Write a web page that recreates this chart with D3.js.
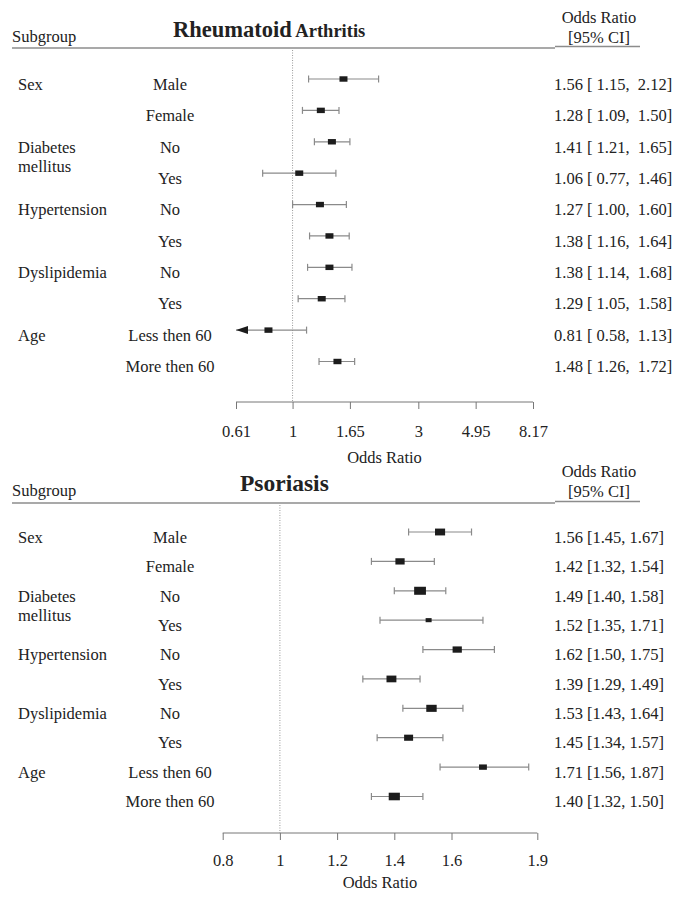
<!DOCTYPE html>
<html>
<head>
<meta charset="utf-8">
<script src="https://cdn.jsdelivr.net/npm/d3@7"></script>
<style>
  body { margin: 0; background: #fff; }
  svg { display: block; }
  text { font-family: "Liberation Serif", "Times New Roman", serif; fill: #222; white-space: pre; }
</style>
</head>
<body>
<svg id="chart" width="684" height="897"></svg>
<script>
// ---------------- data ----------------
const groupLabels = [["Sex"], ["Diabetes", "mellitus"], ["Hypertension"], ["Dyslipidemia"], ["Age"]];
const groupRows = [0, 2, 4, 6, 8];
const subgroups = ["Male", "Female", "No", "Yes", "No", "Yes", "No", "Yes", "Less then 60", "More then 60"];

const raOR    = [1.56, 1.28, 1.41, 1.06, 1.27, 1.38, 1.38, 1.29, 0.81, 1.48];
const raLower = [1.15, 1.09, 1.21, 0.77, 1.00, 1.16, 1.14, 1.05, 0.58, 1.26];
const raUpper = [2.12, 1.50, 1.65, 1.46, 1.60, 1.64, 1.68, 1.58, 1.13, 1.72];
const raTicks = [0.61, 1, 1.65, 3, 4.95, 8.17];

const psOR    = [1.56, 1.42, 1.49, 1.52, 1.62, 1.39, 1.53, 1.45, 1.71, 1.40];
const psLower = [1.45, 1.32, 1.40, 1.35, 1.50, 1.29, 1.43, 1.34, 1.56, 1.32];
const psUpper = [1.67, 1.54, 1.58, 1.71, 1.75, 1.49, 1.64, 1.57, 1.87, 1.50];
const psTicks = [0.8, 1, 1.2, 1.4, 1.6, 1.9];

// ---------------- drawing ----------------
const svg = d3.select("#chart");
const FS = 16.5;
const f2 = d3.format(".2f");

function panel(cfg) {
  const g = svg.append("g");
  const n = cfg.or.length;
  const y = d3.scaleLinear().domain([0, n - 1]).range([cfg.rowTop, cfg.rowBottom]);
  const x = cfg.xScale;
  const [xmin, xmax] = x.domain();

  // header
  g.append("text").attr("x", 12).attr("y", cfg.headY).attr("dy", "0.35em")
    .style("font-size", FS + "px").text("Subgroup");
  const t = g.append("text").attr("x", cfg.titleX).attr("y", cfg.titleY).attr("dy", "0.35em")
    .style("font-weight", "bold");
  cfg.title.forEach(p => t.append("tspan").style("font-size", p.size + "px").text(p.text));
  g.append("text").attr("x", 599).attr("y", cfg.headY - 19).attr("dy", "0.35em")
    .attr("text-anchor", "middle").style("font-size", FS + "px").text("Odds Ratio");
  g.append("text").attr("x", 599).attr("y", cfg.headY + 1).attr("dy", "0.35em")
    .attr("text-anchor", "middle").style("font-size", FS + "px").text("[95% CI]");
  g.append("line").attr("x1", 12).attr("x2", 555).attr("y1", cfg.lineY).attr("y2", cfg.lineY)
    .attr("stroke", "#8c8c8c").attr("stroke-width", 1.4);
  g.append("line").attr("x1", 555).attr("x2", 640).attr("y1", cfg.lineY - 1.5).attr("y2", cfg.lineY - 1.5)
    .attr("stroke", "#8c8c8c").attr("stroke-width", 1.4);

  // reference line
  g.append("line").attr("x1", x(1)).attr("x2", x(1)).attr("y1", cfg.lineY + 2).attr("y2", cfg.axisY)
    .attr("stroke", "#9a9a9a").attr("stroke-width", 1).attr("stroke-dasharray", "1,1.5");

  // group labels
  groupLabels.forEach((lines, i) => {
    lines.forEach((s, k) => {
      g.append("text").attr("x", 18).attr("y", y(groupRows[i]) + 5 + k * 19).attr("dy", "0.35em")
        .style("font-size", FS + "px").text(s);
    });
  });
  // subgroup labels
  g.selectAll(".sub").data(subgroups).join("text")
    .attr("x", 170).attr("y", (d, i) => y(i) + 5).attr("dy", "0.35em")
    .attr("text-anchor", "middle").style("font-size", FS + "px").text(d => d);

  // values
  g.selectAll(".val").data(cfg.or).join("text")
    .attr("x", 554).attr("y", (d, i) => y(i) + 5).attr("dy", "0.35em")
    .style("font-size", FS + "px")
    .text((d, i) => cfg.fmt(d, cfg.lo[i], cfg.hi[i]));

  // CIs
  cfg.or.forEach((d, i) => {
    const lo = cfg.lo[i], hi = cfg.hi[i];
    const yy = y(i);
    const loC = Math.max(lo, xmin), hiC = Math.min(hi, xmax);
    g.append("line").attr("x1", x(loC)).attr("x2", x(hiC)).attr("y1", yy).attr("y2", yy)
      .attr("stroke", "#8a8a8a").attr("stroke-width", 1.2);
    if (lo >= xmin) {
      g.append("line").attr("x1", x(lo)).attr("x2", x(lo)).attr("y1", yy - 3.5).attr("y2", yy + 3.5)
        .attr("stroke", "#8a8a8a").attr("stroke-width", 1.2);
    } else {
      const ax = x(xmin);
      g.append("path").attr("d", `M${ax},${yy} L${ax + 12},${yy - 4} L${ax + 12},${yy + 4} Z`)
        .attr("fill", "#1c1c1c");
    }
    if (hi <= xmax) {
      g.append("line").attr("x1", x(hi)).attr("x2", x(hi)).attr("y1", yy - 3.5).attr("y2", yy + 3.5)
        .attr("stroke", "#8a8a8a").attr("stroke-width", 1.2);
    }
    const w = cfg.boxW(i), h = w * 0.68;
    g.append("rect").attr("x", x(d) - w / 2).attr("y", yy - h / 2).attr("width", w).attr("height", h)
      .attr("fill", "#1c1c1c");
  });

  // axis
  const axis = d3.axisBottom(x).tickValues(cfg.ticks).tickSize(7).tickSizeOuter(0)
    .tickFormat(d => String(d));
  const ag = g.append("g").attr("transform", `translate(0,${cfg.axisY})`).call(axis);
  ag.attr("font-family", null).attr("font-size", null);
  ag.select(".domain").attr("stroke", "#777").attr("d", `M${x(xmin)},0H${x(xmax)}`);
  ag.selectAll(".tick line").attr("stroke", "#777");
  ag.selectAll(".tick text").style("font-size", FS + "px")
    .style("font-family", '"Liberation Serif", serif').attr("fill", "#222")
    .attr("y", cfg.tickLabelOff).attr("dy", "0.35em");
  g.append("text").attr("x", (x(xmin) + x(xmax)) / 2).attr("y", cfg.axisY + cfg.axisTitleOff).attr("dy", "0.35em")
    .attr("text-anchor", "middle").style("font-size", FS + "px").text("Odds Ratio");
}

// Rheumatoid Arthritis (log scale)
const xRA = d3.scaleLog().domain([raTicks[0], raTicks[raTicks.length - 1]]).range([236, 533]);
panel({
  or: raOR, lo: raLower, hi: raUpper, ticks: raTicks, xScale: xRA,
  rowTop: 79, rowBottom: 361.5, axisY: 402, tickLabelOff: 29, axisTitleOff: 55,
  headY: 36, lineY: 48, titleX: 173, titleY: 31,
  title: [{ text: "Rheumatoid", size: 22.5 }, { text: " Arthritis", size: 18.5 }],
  fmt: (d, l, h) => `${f2(d)} [ ${f2(l)},  ${f2(h)}]`,
  boxW: () => 8
});

// Psoriasis (linear scale); box size from precision (1 / log CI width)
const prec = psOR.map((d, i) => 1 / (Math.log(psUpper[i]) - Math.log(psLower[i])));
const sizeScale = d3.scaleLinear().domain(d3.extent(prec)).range([6, 11.8]);
const xPS = d3.scaleLinear().domain([psTicks[0], psTicks[psTicks.length - 1]]).range([222.7, 537.3]);
panel({
  or: psOR, lo: psLower, hi: psUpper, ticks: psTicks, xScale: xPS,
  rowTop: 532, rowBottom: 796.5, axisY: 833, tickLabelOff: 27, axisTitleOff: 49,
  headY: 490, lineY: 503, titleX: 240, titleY: 485,
  title: [{ text: "Psoriasis", size: 23.5 }],
  fmt: (d, l, h) => `${f2(d)} [${f2(l)}, ${f2(h)}]`,
  boxW: i => sizeScale(prec[i])
});
</script>
</body>
</html>
